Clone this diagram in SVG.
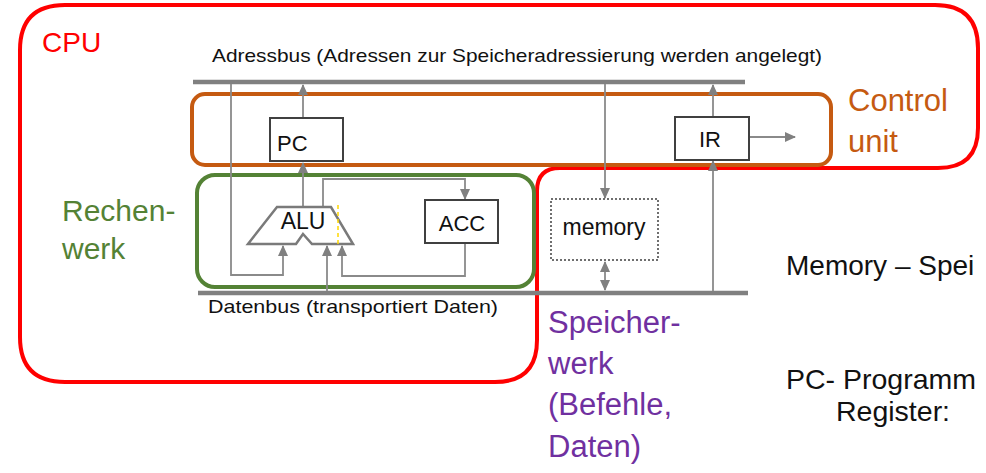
<svg xmlns="http://www.w3.org/2000/svg" width="986" height="473" viewBox="0 0 986 473">
<defs>
<marker id="arr" markerUnits="userSpaceOnUse" markerWidth="11" markerHeight="10" refX="10" refY="5" orient="auto-start-reverse" viewBox="0 0 11 10">
<path d="M0,0 L11,5 L0,10 Z" fill="#808080"/>
</marker>
<style>
text{font-family:"Liberation Sans",Arial,sans-serif;}
.lbl{fill:#111;}
.box{fill:#fff;stroke:#404040;stroke-width:2;}
.conn{fill:none;stroke:#8a8a8a;stroke-width:1.8;}
.bus{stroke:#808080;stroke-width:4.5;}
.arr{marker-end:url(#arr);}
</style>
</defs>
<rect width="986" height="473" fill="#fff"/>

<g id="cpu">
<path d="M65,5 H935 Q978,5 978,48 V128 Q978,168 938,168 H560 Q537,168 537,191 V340 Q537,382 495,382 H65 Q20,382 20,337 V50 Q20,5 65,5 Z" fill="none" stroke="#ff0000" stroke-width="4"/>
<text x="42" y="52" font-size="28" fill="#ff0000">CPU</text>
</g>

<g id="control-unit">
<rect x="192" y="94" width="639" height="71" rx="13" fill="none" stroke="#c55a11" stroke-width="4"/>
<text x="848" y="111" font-size="31" fill="#c55a11">Control</text>
<text x="848" y="152" font-size="31" fill="#c55a11">unit</text>
</g>

<g id="rechenwerk">
<rect x="197" y="175" width="337" height="112" rx="18" fill="none" stroke="#548235" stroke-width="4"/>
<text x="62" y="221" font-size="30" fill="#548235">Rechen-</text>
<text x="62" y="259" font-size="30" fill="#548235">werk</text>
</g>

<g id="speicherwerk">
<text x="548" y="333" font-size="31" fill="#7030a0">Speicher-</text>
<text x="548" y="374" font-size="31" fill="#7030a0">werk</text>
<text x="548" y="415" font-size="31" fill="#7030a0">(Befehle,</text>
<text x="548" y="457" font-size="31" fill="#7030a0">Daten)</text>
</g>

<g id="adressbus">
<line x1="193" y1="82" x2="745" y2="82" class="bus"/>
<text x="212" y="62" font-size="18.5" class="lbl" textLength="610" lengthAdjust="spacingAndGlyphs">Adressbus (Adressen zur Speicheradressierung werden angelegt)</text>
</g>

<g id="datenbus">
<line x1="198" y1="293" x2="748" y2="293" class="bus"/>
<text x="208" y="313" font-size="18.5" class="lbl" textLength="290" lengthAdjust="spacingAndGlyphs">Datenbus (transportiert Daten)</text>
</g>

<g id="connectors">
<path class="conn arr" d="M231,84 V275 H283 V246"/>
<path class="conn arr" d="M303,207 V163"/>
<path class="conn arr" d="M303,118 V85"/>
<path class="conn arr" d="M323,207 V179 H465 V199"/>
<path class="conn arr" d="M465,243 V276 H342 V246"/>
<path class="conn arr" d="M327,291 V246"/>
<path class="conn arr" d="M605,84 V198"/>
<path class="conn" d="M605,262 V290" marker-start="url(#arr)" marker-end="url(#arr)"/>
<path class="conn arr" d="M713,291 V161"/>
<path class="conn arr" d="M713,117 V85"/>
<path class="conn arr" d="M749,137 H795"/>
</g>

<g id="pc">
<rect x="270" y="118" width="73" height="43" class="box"/>
<text x="277" y="151" font-size="22" class="lbl">PC</text>
</g>

<g id="ir">
<rect x="675" y="117" width="74" height="43" class="box"/>
<text x="710" y="147" font-size="22" class="lbl" text-anchor="middle">IR</text>
</g>

<g id="alu">
<path d="M277,207 H331 L353,244 H312 L303,234 L296,244 H248 Z" fill="#fff" stroke="#7a7a7a" stroke-width="2.5" stroke-linejoin="miter"/>
<line x1="338" y1="205" x2="338" y2="245" stroke="#ffd700" stroke-width="1.5" stroke-dasharray="4,3"/>
<text x="303" y="229" font-size="23" class="lbl" text-anchor="middle">ALU</text>
</g>

<g id="acc">
<rect x="425" y="200" width="73" height="43" class="box"/>
<text x="462" y="231" font-size="22" class="lbl" text-anchor="middle">ACC</text>
</g>

<g id="memory">
<rect x="551" y="199" width="107" height="61" fill="#fff" stroke="#404040" stroke-width="1.5" stroke-dasharray="2,2"/>
<text x="604" y="235" font-size="23" class="lbl" text-anchor="middle">memory</text>
</g>

<g id="notes">
<text x="786" y="275" font-size="28" class="lbl">Memory – Spei</text>
<text x="786" y="389" font-size="28.5" class="lbl">PC- Programm</text>
<text x="836" y="421" font-size="28.5" class="lbl">Register:</text>
</g>
</svg>
